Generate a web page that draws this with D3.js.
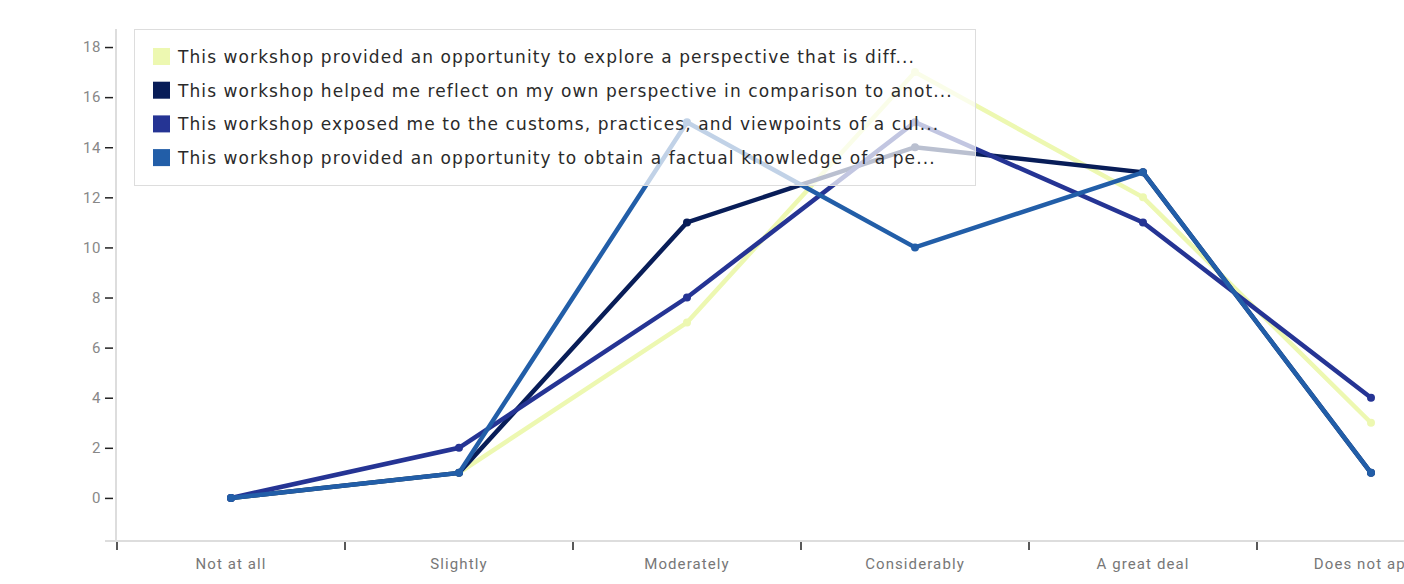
<!DOCTYPE html>
<html><head><meta charset="utf-8">
<script src="https://cdn.jsdelivr.net/npm/d3@7"></script>
<style>
html,body{margin:0;padding:0;background:#fff;overflow:hidden;width:1404px;height:584px;}
</style></head>
<body>
<svg id="chart" width="1500" height="584"></svg>
<script>
const categories = ["Not at all","Slightly","Moderately","Considerably","A great deal","Does not apply"];
const seriesNames = [
  "This workshop provided an opportunity to explore a perspective that is diff...",
  "This workshop helped me reflect on my own perspective in comparison to anot...",
  "This workshop exposed me to the customs, practices, and viewpoints of a cul...",
  "This workshop provided an opportunity to obtain a factual knowledge of a pe..."
];
const seriesExplore  = [0, 1, 7, 17, 12, 3];
const seriesReflect  = [0, 1, 11, 14, 13, 1];
const seriesExposed  = [0, 2, 8, 15, 11, 4];
const seriesFactual  = [0, 1, 15, 10, 13, 1];
const seriesColors = ["#edf8b1", "#081d58", "#253494", "#225ea8"];
const yTicks = [0,2,4,6,8,10,12,14,16,18];

const series = [seriesExplore, seriesReflect, seriesExposed, seriesFactual];

const svg = d3.select("#chart");
const mLeft = 117, bandW = 228, mTop = 29, mBottom = 541;
const x = d3.scaleBand().domain(categories).range([mLeft, mLeft + bandW*categories.length]).padding(0);
const y = d3.scaleLinear().domain([-1.72, 18.72]).range([mBottom, mTop]);

// y axis line
svg.append("line").attr("x1", mLeft-1).attr("x2", mLeft-1).attr("y1", mTop).attr("y2", mBottom)
  .attr("stroke", "#ddd").attr("stroke-width", 2);
// x axis line
svg.append("line").attr("x1", 105).attr("x2", 1500).attr("y1", mBottom).attr("y2", mBottom)
  .attr("stroke", "#ddd").attr("stroke-width", 2);

// y ticks
const yAxis = svg.append("g").attr("transform", `translate(${mLeft-4},0)`)
  .call(d3.axisLeft(y).tickValues(yTicks).tickSize(8).tickPadding(4));
yAxis.select(".domain").remove();
yAxis.selectAll(".tick line").attr("stroke", "#222").attr("stroke-width", 1.5);
yAxis.selectAll(".tick text").attr("fill", "#888")
  .style("font-family", "Roboto, sans-serif").style("font-size", "15px").style("letter-spacing", "0.6px");

// x ticks at band boundaries
const xAxis = svg.append("g").attr("transform", `translate(0,${mBottom+1})`);
xAxis.selectAll("line.b").data(categories).join("line").attr("class","b")
  .attr("x1", d => x(d)).attr("x2", d => x(d)).attr("y1", 0).attr("y2", 8)
  .attr("stroke", "#222").attr("stroke-width", 1.5);
xAxis.selectAll("text").data(categories).join("text")
  .attr("x", d => x(d) + x.bandwidth()/2).attr("y", 27)
  .attr("text-anchor", "middle").attr("fill", "#777")
  .style("font-family", "Roboto, sans-serif").style("font-size", "15px").style("letter-spacing", "1.1px")
  .text(d => d);

// lines
const line = d3.line().x((d,i) => x(categories[i]) + x.bandwidth()/2).y(d => y(d));
series.forEach((vals, si) => {
  const g = svg.append("g");
  g.append("path").datum(vals).attr("d", line).attr("fill", "none")
    .attr("stroke", seriesColors[si]).attr("stroke-width", 4.5).attr("stroke-linejoin", "miter");
  g.selectAll("circle").data(vals).join("circle")
    .attr("cx", (d,i) => x(categories[i]) + x.bandwidth()/2).attr("cy", d => y(d))
    .attr("r", 4).attr("fill", seriesColors[si]);
});

// legend
const lg = svg.append("g").attr("transform", "translate(134,29)");
lg.append("rect").attr("x", 0.5).attr("y", 0.5).attr("width", 841).attr("height", 156)
  .attr("fill", "rgba(255,255,255,0.72)").attr("stroke", "#ddd").attr("stroke-width", 1);
const legendTexts = [];
seriesNames.forEach((name, i) => {
  const row = lg.append("g").attr("transform", `translate(19,${28 + i*33.7})`);
  row.append("rect").attr("x", 0).attr("y", -9).attr("width", 17).attr("height", 17)
    .attr("fill", seriesColors[i]);
  legendTexts.push(row.append("text").attr("x", 25).attr("y", 6).attr("fill", "#2a2a2a")
    .style("font-family", "DejaVu Sans, sans-serif").style("font-size", "17px")
    .text(name));
});
// spread letters so the first line spans the legend width seen in the reference
const t0 = legendTexts[0].node();
const w0 = t0.getComputedTextLength();
const ls = Math.max(0, (737 - w0) / (seriesNames[0].length - 1));
legendTexts.forEach(t => t.style("letter-spacing", ls + "px"));
</script>
</body></html>
